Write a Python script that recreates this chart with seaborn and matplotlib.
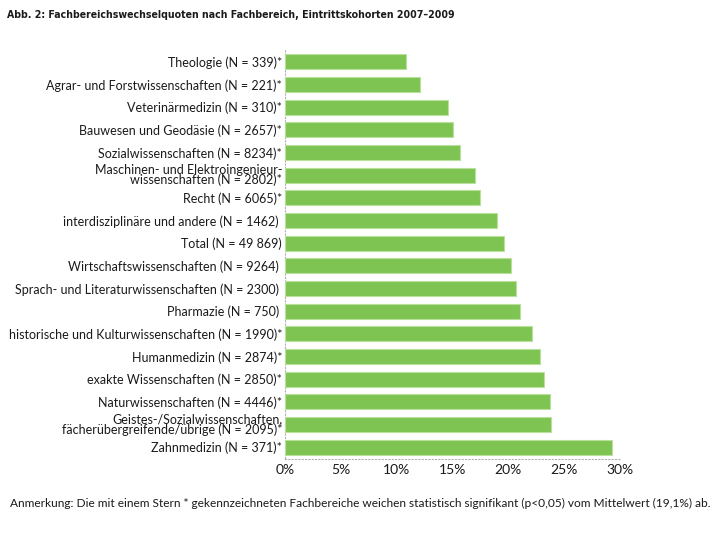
import seaborn as sns
import matplotlib.pyplot as plt
import pandas as pd
from matplotlib.ticker import FuncFormatter

# Daten
fachbereiche = [
    "Theologie (N = 339)*",
    "Agrar- und Forstwissenschaften (N = 221)*",
    "Veterinärmedizin (N = 310)*",
    "Bauwesen und Geodäsie (N = 2657)*",
    "Sozialwissenschaften (N = 8234)*",
    "Maschinen- und Elektroingenieur-\nwissenschaften (N = 2802)*",
    "Recht (N = 6065)*",
    "interdisziplinäre und andere (N = 1462) ",
    "Total (N = 49 869)",
    "Wirtschaftswissenschaften (N = 9264) ",
    "Sprach- und Literaturwissenschaften (N = 2300) ",
    "Pharmazie (N = 750) ",
    "historische und Kulturwissenschaften (N = 1990)*",
    "Humanmedizin (N = 2874)*",
    "exakte Wissenschaften (N = 2850)*",
    "Naturwissenschaften (N = 4446)*",
    "Geistes-/Sozialwissenschaften,\nfächerübergreifende/übrige (N = 2095)*",
    "Zahnmedizin (N = 371)*",
]
quoten = [10.8, 12.1, 14.6, 15.0, 15.7, 17.0, 17.5, 19.0, 19.6,
          20.2, 20.7, 21.0, 22.1, 22.8, 23.2, 23.7, 23.8, 29.3]
x_ticks = [0, 5, 10, 15, 20, 25, 30]

df = pd.DataFrame({"fachbereich": fachbereiche, "quote": quoten})

sns.set_theme(style="white")
plt.rcParams["font.family"] = ["Lato", "DejaVu Sans"]
text_color = "#1a1a1a"

fig = plt.figure(figsize=(7.23, 5.4), dpi=100)
ax = fig.add_axes([285 / 723, 1 - 458.5 / 540, 335 / 723, 408 / 540])

sns.barplot(data=df, x="quote", y="fachbereich", color="#7dc452",
            saturation=1, width=0.65, edgecolor="#b9e09c", linewidth=0.8, ax=ax)

ax.set_xlim(0, 30)
ax.set_xticks(x_ticks)
ax.xaxis.set_major_formatter(FuncFormatter(lambda v, p: f"{v:.0f}%"))
ax.set_xlabel("")
ax.set_ylabel("")
ax.tick_params(axis="x", length=0, pad=4, labelsize=10, colors=text_color)
ax.tick_params(axis="y", length=0, pad=2, labelsize=9, colors=text_color)
for lbl in ax.get_yticklabels():
    lbl.set_linespacing(0.8)

# gepunktete Achsen
for side in ["top", "right"]:
    ax.spines[side].set_visible(False)
for side in ["bottom", "left"]:
    ax.spines[side].set_color("#b0b0b0")
    ax.spines[side].set_linestyle((0, (1, 2)))
    ax.spines[side].set_linewidth(0.8)
    ax.spines[side].set_zorder(0.5)

fig.text(7 / 723, 1 - 15 / 540,
         "Abb. 2: Fachbereichswechselquoten nach Fachbereich, Eintrittskohorten 2007–2009",
         fontsize=7.6, fontweight="bold", family="DejaVu Sans", fontstretch="condensed",
         color=text_color, va="center", ha="left")
fig.text(10 / 723, 1 - 503 / 540,
         "Anmerkung: Die mit einem Stern * gekennzeichneten Fachbereiche weichen statistisch "
         "signifikant (p<0,05) vom Mittelwert (19,1%) ab.",
         fontsize=8.6, color=text_color, va="center", ha="left")

fig.savefig("out.png", dpi=100)
